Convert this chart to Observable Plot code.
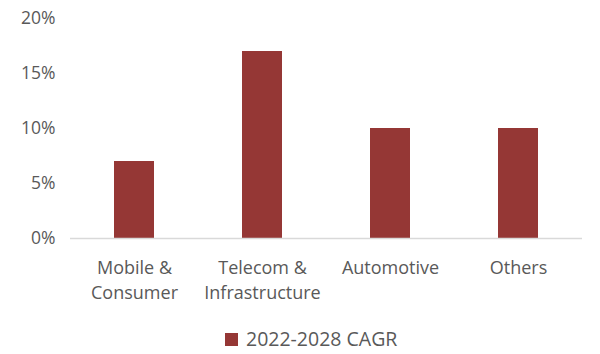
<!DOCTYPE html>
<html>
<head>
<meta charset="utf-8">
<script src="https://cdn.jsdelivr.net/npm/d3@7"></script>
<script src="https://cdn.jsdelivr.net/npm/@observablehq/plot@0.6"></script>
<style>
  html, body { margin: 0; padding: 0; background: #fff; }
  body { width: 600px; height: 354px; overflow: hidden; font-family: "Open Sans", sans-serif; position: relative; }
  #legend { position: absolute; left: 225px; top: 326px; height: 26px; display: flex; align-items: center; color: #595959; font-size: 19.5px; line-height: 26px; white-space: nowrap; }
  #legend .sw { width: 13px; height: 13px; background: #953735; margin-right: 8px; }
</style>
</head>
<body>
<div id="chart"></div>
<div id="legend"></div>
<script>
const categories = ["Mobile & Consumer", "Telecom & Infrastructure", "Automotive", "Others"];
const tickLabels = ["Mobile &\nConsumer", "Telecom &\nInfrastructure", "Automotive", "Others"];
const cagr = [7, 17, 10, 10];
const yTicks = [0, 5, 10, 15, 20];
const seriesName = "2022-2028 CAGR";
const barColor = "#953735";
const textColor = "#595959";

const data = categories.map((c, i) => ({category: c, value: cagr[i]}));
const labelOf = new Map(categories.map((c, i) => [c, tickLabels[i]]));

const chart = Plot.plot({
  width: 600,
  height: 320,
  marginTop: 18,
  marginBottom: 82,
  marginLeft: 70,
  marginRight: 18,
  style: {fontFamily: "'Open Sans', sans-serif", color: textColor, background: "#fff"},
  x: {domain: categories, paddingInner: 0.69, paddingOuter: 0.345, label: null},
  y: {domain: [0, 20], ticks: yTicks, label: null},
  marks: [
    Plot.barY(data, {x: "category", y: "value", fill: barColor}),
    Plot.ruleY([0], {stroke: "#d9d9d9", strokeWidth: 1.5}),
    Plot.axisY({ticks: yTicks, tickSize: 0, tickPadding: 15, tickFormat: d => d + "%", fontSize: 17.5, fill: textColor, label: null}),
    Plot.axisX({tickSize: 0, tickPadding: 18, tickFormat: d => labelOf.get(d), fontSize: 18, lineHeight: 1.38, fill: textColor, label: null})
  ]
});
document.getElementById("chart").appendChild(chart);
document.getElementById("legend").innerHTML = `<span class="sw"></span><span>${seriesName}</span>`;
</script>
</body>
</html>
